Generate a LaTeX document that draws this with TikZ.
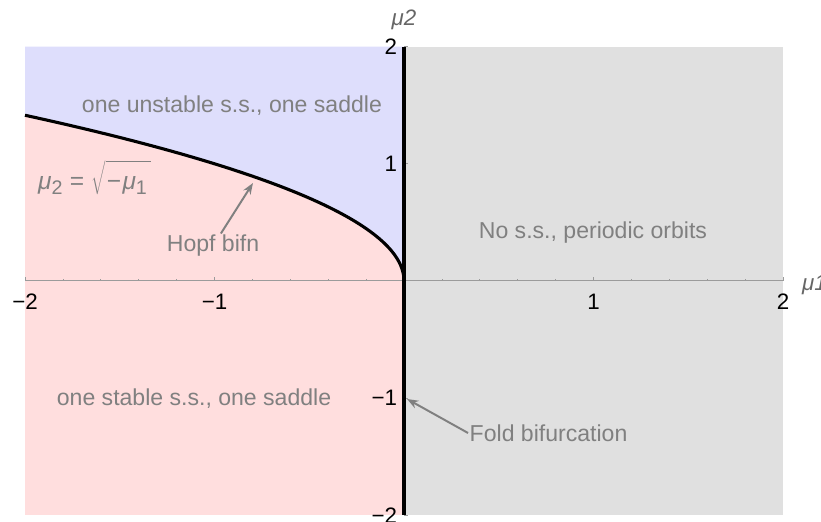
\documentclass[tikz,border=0pt]{standalone}
\usepackage{fontspec}
\setmainfont{Liberation Sans}
\usetikzlibrary{arrows.meta}
\definecolor{unstab}{RGB}{222,222,252}
\definecolor{stab}{RGB}{255,222,222}
\definecolor{noss}{RGB}{224,224,224}
\definecolor{axgray}{RGB}{155,155,155}
\newcommand{\lowsub}[1]{\raisebox{-0.4ex}{\fontsize{14}{15}\selectfont #1}}

\begin{document}
\begin{tikzpicture}[x=4.7375cm,y=2.93cm,region/.style={text=black!50,font=\fontsize{16.4}{19}\selectfont,inner sep=1pt},ticklabel/.style={font=\fontsize{15.9}{19}\selectfont,inner sep=0pt},axislabel/.style={text=black!60,font=\fontsize{15.9}{19}\selectfont\itshape,inner sep=0pt},bifline/.style={line width=2.2pt,line cap=butt},every edge/.style={draw,black!50,line width=1.4pt,-{Stealth[length=8pt,width=6pt]}}]
\useasboundingbox (-2.132,-2.056) rectangle (2.2005,2.3976);
% regions
\fill[noss] (0,-2) rectangle (2,2);
\fill[stab] (-2,-2) rectangle (0,2);
\fill[unstab] (-2,2) -- plot[variable=\t,domain=1.41421:0,samples=80] ({-\t*\t},\t) -- (0,2) -- cycle;
% axes
\draw[axgray,line width=0.7pt] (-2,0) -- (2,0);
\foreach \i in {-2,-1.8,...,2.01}
  \draw[axgray,line width=0.5pt] (\i,0) -- (\i,0.018);
\foreach \i in {-2,-1,1,2}
  \draw[axgray,line width=0.5pt] (\i,0) -- (\i,0.034);
\foreach \i in {-2,-1.8,...,2.01}
  \draw[axgray,line width=0.5pt] (0,\i) -- (0.011,\i);
\foreach \i in {-2,-1,1,2}
  \draw[axgray,line width=0.5pt] (0,\i) -- (0.021,\i);
% bifurcation curves
\draw[bifline] (-2,1.41421) plot[variable=\t,domain=1.41421:0,samples=80] ({-\t*\t},\t);
\draw[bifline] (0,2) -- (0,-2);
% tick labels
\node[ticklabel] (xm2) at (-2,-0.179) {−2};
\node[ticklabel] (xm1) at (-1,-0.179) {−1};
\node[ticklabel] (xp1) at (1,-0.179) {1};
\node[ticklabel] (xp2) at (2,-0.179) {2};
\node[ticklabel,anchor=east] (yp2) at (-0.035,2) {2};
\node[ticklabel,anchor=east] (yp1) at (-0.035,1) {1};
\node[ticklabel,anchor=east] (ym1) at (-0.035,-1) {−1};
\node[ticklabel,anchor=east] (ym2) at (-0.035,-2) {−2};
\node[axislabel] (mutwo) at (0,2.227) {μ2};
\node[axislabel,anchor=west] (muone) at (2.1,-0.034) {μ1};
% region labels
\node[region] (unstable) at (-0.908,1.493) {one unstable s.s., one saddle};
\node[region] (periodic) at (0.997,0.41) {No s.s., periodic orbits};
\node[region] (stable) at (-1.108,-1.007) {one stable s.s., one saddle};
\node[region,anchor=west,font=\fontsize{17.5}{19}\selectfont] (hopfeq) at (-1.94,0.88) {\textit{μ}\lowsub{2}\hspace{0.3em}=\hspace{0.3em}$\sqrt{\rule{0pt}{1.05em}\hbox{\hspace{0.05em}−\hspace{0.05em}\textit{μ}\lowsub{1}\hspace{0.15em}}}$};
\node[region] (hopf) at (-1.008,0.299) {Hopf bifn};
\node[region,anchor=west] (fold) at (0.338,-1.297) {Fold bifurcation};
\coordinate (hopftip) at (-0.797,0.836);
\coordinate (foldtip) at (0.016,-1.007);
\path (hopf) edge (hopftip);
\path (fold.west) edge (foldtip);
\end{tikzpicture}
\end{document}
